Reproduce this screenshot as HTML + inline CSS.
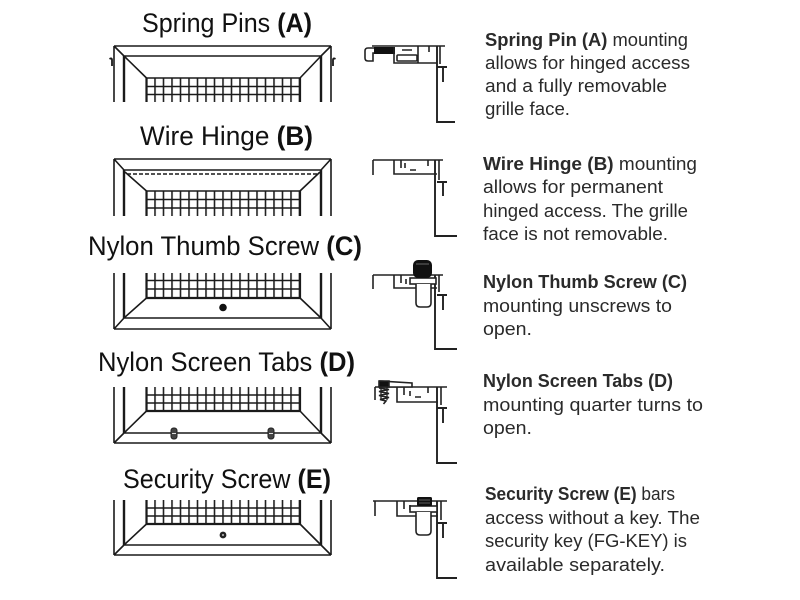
<!DOCTYPE html>
<html>
<head>
<meta charset="utf-8">
<style>
  html,body{margin:0;padding:0;background:#fff;}
  svg{display:block;}
  .t{font-family:"Liberation Sans",Arial,sans-serif;font-size:27px;fill:#111;}
  .b{font-family:"Liberation Sans",Arial,sans-serif;font-size:18px;fill:#2a2a2a;}
  .bd{font-weight:bold;}
</style>
</head>
<body>
<svg width="800" height="600" viewBox="0 0 800 600" xmlns="http://www.w3.org/2000/svg">
  <defs>
    <pattern id="cols" patternUnits="userSpaceOnUse" x="145.7" y="0" width="8.5" height="20">
      <rect x="0" y="0" width="1.6" height="20" fill="#222"/>
    </pattern>
  </defs>
  <rect width="800" height="600" fill="#fff"/>

  <!-- Titles -->
  <text class="t" x="142" y="32" textLength="170" lengthAdjust="spacingAndGlyphs">Spring Pins <tspan class="bd">(A)</tspan></text>
  <text class="t" x="140" y="145" textLength="173" lengthAdjust="spacingAndGlyphs">Wire Hinge <tspan class="bd">(B)</tspan></text>
  <text class="t" x="88" y="255" textLength="274" lengthAdjust="spacingAndGlyphs">Nylon Thumb Screw <tspan class="bd">(C)</tspan></text>
  <text class="t" x="98" y="371" textLength="257" lengthAdjust="spacingAndGlyphs">Nylon Screen Tabs <tspan class="bd">(D)</tspan></text>
  <text class="t" x="123" y="488" textLength="208" lengthAdjust="spacingAndGlyphs">Security Screw <tspan class="bd">(E)</tspan></text>

  <!-- Grille A -->
  <g fill="none" stroke="#1a1a1a">
    <path d="M114,46H331 M114,46V102 M331,46V102 M114,46L124,56 M331,46L321,56 M124,56H321 M124,56L146.5,78 M321,56L300,78" stroke-width="1.6"/>
    <path d="M124,56V102 M321,56V102" stroke-width="2.4"/>
    <rect x="145.7" y="78" width="155.6" height="24" fill="url(#cols)" stroke="none"/>
    <path d="M146,78H300 M146,86.5H300 M146,94.5H300" stroke-width="1.5"/>
    <path d="M146.5,78V102 M300,78V102" stroke-width="2.2"/>
    <path d="M112,66V60Q112,57.5 109.5,59" stroke-width="1.8"/>
    <path d="M333,66V60Q333,57.5 335.5,59" stroke-width="1.8"/>
  </g>

  <!-- Grille B -->
  <g fill="none" stroke="#1a1a1a">
    <path d="M114,159H331 M114,159V216 M331,159V216 M114,159L124,170 M331,159L321,170 M124,170H321 M125,172L146.5,191 M320,172L300,191" stroke-width="1.6"/>
    <path d="M127,174H318" stroke-width="1.6" stroke-dasharray="4,2"/>
    <path d="M124,170V216 M321,170V216" stroke-width="2.4"/>
    <rect x="145.7" y="191" width="155.6" height="25" fill="url(#cols)" stroke="none"/>
    <path d="M146,191H300 M146,199.5H300 M146,208H300" stroke-width="1.5"/>
    <path d="M146.5,191V216 M300,191V216" stroke-width="2.2"/>
  </g>

  <!-- Grille C -->
  <g fill="none" stroke="#1a1a1a">
    <path d="M114,273V329 M331,273V329 M114,329H331 M114,329L124,318 M331,329L321,318 M124,318H321 M124,318L146.5,298 M321,318L300,298" stroke-width="1.6"/>
    <path d="M124,273V318 M321,273V318" stroke-width="2.4"/>
    <rect x="145.7" y="273" width="155.6" height="25" fill="url(#cols)" stroke="none"/>
    <path d="M146,280.5H300 M146,289H300" stroke-width="1.5"/>
    <path d="M146,298H300" stroke-width="2.2"/>
    <path d="M146.5,273V298 M300,273V298" stroke-width="2.2"/>
    <circle cx="223" cy="307.5" r="3.8" fill="#111" stroke="none"/>
  </g>

  <!-- Grille D -->
  <g fill="none" stroke="#1a1a1a">
    <path d="M114,387V443 M331,387V443 M114,443H331 M114,443L124,433 M331,443L321,433 M124,433H321 M124,433L146.5,411 M321,433L300,411" stroke-width="1.6"/>
    <path d="M124,387V433 M321,387V433" stroke-width="2.4"/>
    <rect x="145.7" y="387" width="155.6" height="24" fill="url(#cols)" stroke="none"/>
    <path d="M146,395H300 M146,403H300" stroke-width="1.5"/>
    <path d="M146,411H300" stroke-width="2.2"/>
    <path d="M146.5,387V411 M300,387V411" stroke-width="2.2"/>
    <rect x="171" y="428" width="6" height="11" rx="2.5" fill="#444" stroke="#222" stroke-width="1"/>
    <path d="M172,433.5H176" stroke="#ddd" stroke-width="1"/>
    <rect x="268" y="428" width="6" height="11" rx="2.5" fill="#444" stroke="#222" stroke-width="1"/>
    <path d="M269,433.5H273" stroke="#ddd" stroke-width="1"/>
  </g>

  <!-- Grille E -->
  <g fill="none" stroke="#1a1a1a">
    <path d="M114,500V555 M331,500V555 M114,555H331 M114,555L124,545 M331,555L321,545 M124,545H321 M124,545L146.5,524 M321,545L300,524" stroke-width="1.6"/>
    <path d="M124,500V545 M321,500V545" stroke-width="2.4"/>
    <rect x="145.7" y="500" width="155.6" height="24" fill="url(#cols)" stroke="none"/>
    <path d="M146,508H300 M146,516H300" stroke-width="1.5"/>
    <path d="M146,524H300" stroke-width="2.2"/>
    <path d="M146.5,500V524 M300,500V524" stroke-width="2.2"/>
    <circle cx="223" cy="535" r="3.4" fill="#222" stroke="none"/>
    <circle cx="223" cy="535" r="1.1" fill="#aaa" stroke="none"/>
  </g>

  <!-- Profile A -->
  <g fill="none" stroke="#222" stroke-width="1.6">
    <path d="M372,46H445"/>
    <path d="M374,48H368Q365,48 365,51V58Q365,61 368,61H373V53H374"/>
    <rect x="374" y="47" width="21" height="7" fill="#111" stroke="none"/>
    <path d="M394,47V63H437"/>
    <rect x="397" y="55" width="20" height="6" rx="1"/>
    <path d="M402,50H412 M418,46V63 M429,46V52"/>
    <path d="M437,46V122H455" stroke-width="1.9"/>
    <path d="M440,46V64"/>
    <path d="M437,67H447 M443,67V82" stroke-width="1.9"/>
  </g>

  <!-- Profile B -->
  <g fill="none" stroke="#222" stroke-width="1.6">
    <path d="M373,160H443 M373,160V175"/>
    <path d="M394,160V174H437"/>
    <path d="M401,160V168 M405,163V168 M410,170H416 M428,160V166"/>
    <path d="M435,160V236H457" stroke-width="1.9"/>
    <path d="M439,160V180"/>
    <path d="M437,182H447 M443,182V196" stroke-width="1.9"/>
  </g>

  <!-- Profile C -->
  <g fill="none" stroke="#222" stroke-width="1.6">
    <path d="M373,275H443 M373,275V289"/>
    <path d="M394,275V288H437"/>
    <path d="M401,275V283 M406,279V284"/>
    <path d="M435,275V349H457" stroke-width="1.9"/>
    <path d="M439,275V292"/>
    <path d="M437,295H447 M443,295V310" stroke-width="1.9"/>
    <rect x="410" y="278" width="26" height="6" fill="#fff"/>
    <path d="M416,284V303Q416,307 420,307H427Q431,307 431,303V284" fill="#fff"/>
    <rect x="413" y="260" width="19" height="18" rx="5" fill="#111" stroke="none"/>
    <path d="M416,264H429" stroke="#666" stroke-width="1"/>
  </g>

  <!-- Profile D -->
  <g fill="none" stroke="#222" stroke-width="1.6">
    <path d="M375,387H447 M375,387V400"/>
    <path d="M397,387V402H438"/>
    <path d="M404,387V395 M410,391V396 M415,397H421 M428,387V393"/>
    <path d="M437,387V463H457" stroke-width="1.9"/>
    <path d="M441,387V405"/>
    <path d="M437,408H447 M443,408V423" stroke-width="1.9"/>
    <path d="M380,381L412,383V387H380Z" fill="#fff"/>
    <path d="M379,381H389V387H379Z" fill="#111"/>
    <path d="M379,388L389,389.5L379,391.5L389,393.5L379,395.5L389,397.5L380,399.5L386,401L383.5,404" stroke-width="1.6"/>
    <path d="M381,387V400 M387,387V400" stroke-width="1.3"/>
  </g>

  <!-- Profile E -->
  <g fill="none" stroke="#222" stroke-width="1.6">
    <path d="M373,501H447 M375,501V516"/>
    <path d="M397,501V516H438"/>
    <path d="M404,501V509 M410,505V510"/>
    <path d="M437,501V578H457" stroke-width="1.9"/>
    <path d="M441,501V520"/>
    <path d="M437,523H447 M443,523V538" stroke-width="1.9"/>
    <rect x="410" y="506" width="27" height="6" fill="#fff"/>
    <path d="M416,512V531Q416,535 420,535H427Q431,535 431,531V512" fill="#fff"/>
    <rect x="417" y="497" width="15" height="9" rx="1.5" fill="#111" stroke="none"/>
    <path d="M419,500H430 M419,503H430" stroke="#777" stroke-width="0.8"/>
  </g>

  <!-- Descriptions -->
  <text class="b" x="485" y="46" textLength="203" lengthAdjust="spacingAndGlyphs"><tspan class="bd">Spring Pin (A)</tspan> mounting</text>
  <text class="b" x="485" y="69" textLength="205" lengthAdjust="spacingAndGlyphs">allows for hinged access</text>
  <text class="b" x="485" y="92" textLength="182" lengthAdjust="spacingAndGlyphs">and a fully removable</text>
  <text class="b" x="485" y="115" textLength="85" lengthAdjust="spacingAndGlyphs">grille face.</text>

  <text class="b" x="483" y="170" textLength="214" lengthAdjust="spacingAndGlyphs"><tspan class="bd">Wire Hinge (B)</tspan> mounting</text>
  <text class="b" x="483" y="193" textLength="180" lengthAdjust="spacingAndGlyphs">allows for permanent</text>
  <text class="b" x="483" y="217" textLength="205" lengthAdjust="spacingAndGlyphs">hinged access. The grille</text>
  <text class="b" x="483" y="240" textLength="185" lengthAdjust="spacingAndGlyphs">face is not removable.</text>

  <text class="b" x="483" y="288" textLength="204" lengthAdjust="spacingAndGlyphs"><tspan class="bd">Nylon Thumb Screw (C)</tspan></text>
  <text class="b" x="483" y="312" textLength="189" lengthAdjust="spacingAndGlyphs">mounting unscrews to</text>
  <text class="b" x="483" y="335" textLength="49" lengthAdjust="spacingAndGlyphs">open.</text>

  <text class="b" x="483" y="387" textLength="190" lengthAdjust="spacingAndGlyphs"><tspan class="bd">Nylon Screen Tabs (D)</tspan></text>
  <text class="b" x="483" y="411" textLength="220" lengthAdjust="spacingAndGlyphs">mounting quarter turns to</text>
  <text class="b" x="483" y="434" textLength="49" lengthAdjust="spacingAndGlyphs">open.</text>

  <text class="b" x="485" y="500" textLength="190" lengthAdjust="spacingAndGlyphs"><tspan class="bd">Security Screw (E)</tspan> bars</text>
  <text class="b" x="485" y="524" textLength="215" lengthAdjust="spacingAndGlyphs">access without a key. The</text>
  <text class="b" x="485" y="547" textLength="202" lengthAdjust="spacingAndGlyphs">security key (FG-KEY) is</text>
  <text class="b" x="485" y="571" textLength="180" lengthAdjust="spacingAndGlyphs">available separately.</text>
</svg>
</body>
</html>
